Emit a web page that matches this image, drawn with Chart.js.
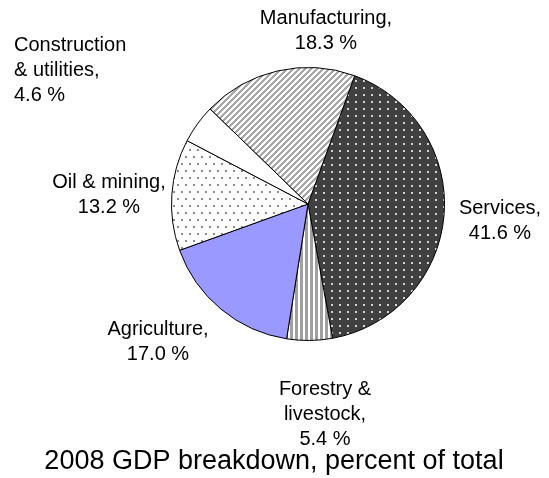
<!DOCTYPE html>
<html>
<head>
<meta charset="utf-8">
<script src="https://cdn.jsdelivr.net/npm/chart.js@4/dist/chart.umd.min.js"></script>
<style>
  html, body { margin: 0; padding: 0; background: #fff; }
  canvas { display: block; }
</style>
</head>
<body>
<canvas id="gdp-pie" width="549" height="478"></canvas>
<script>
// sectors in drawing order, clockwise from the services slice
var categories = ['Services', 'Forestry & livestock', 'Agriculture', 'Oil & mining', 'Construction & utilities', 'Manufacturing'];
var shares = [41.6, 5.4, 17.0, 13.2, 4.6, 18.3];
// how each sector name is broken over lines in its label
var labelLines = [
    ['Services,'],
    ['Forestry &', 'livestock,'],
    ['Agriculture,'],
    ['Oil & mining,'],
    ['Construction', '& utilities,'],
    ['Manufacturing,']
];
var chartTitle = '2008 GDP breakdown, percent of total';

function makePattern(w, h, bg, draw) {
    var c = document.createElement('canvas');
    c.width = w; c.height = h;
    var g = c.getContext('2d');
    g.fillStyle = bg;
    g.fillRect(0, 0, w, h);
    draw(g);
    return g.createPattern(c, 'repeat');
}

var fills = [
    // dark with light dots
    makePattern(8, 7, '#404040', function (g) {
        g.fillStyle = '#d4d4d4';
        g.fillRect(3, 3, 2, 2);
    }),
    // vertical stripes
    makePattern(5, 1, '#ffffff', function (g) {
        g.fillStyle = '#a0a0a0';
        g.fillRect(0, 0, 3, 1);
    }),
    '#9999ff',
    // light dots, staggered
    makePattern(8, 14, '#ffffff', function (g) {
        g.fillStyle = '#8c8c8c';
        g.fillRect(1, 2, 2, 2);
        g.fillRect(5, 9, 2, 2);
    }),
    '#ffffff',
    // diagonal stripes
    makePattern(6, 6, '#ffffff', function (g) {
        g.fillStyle = '#a8a8a8';
        for (var y = 0; y < 6; y++) {
            for (var x = 0; x < 6; x++) {
                if ((x + y) % 6 < 3) g.fillRect(x, y, 1, 1);
            }
        }
    })
];

// where each label block sits, and how it is aligned
var labelSpots = [
    {x: 500, y: 208, align: 'center'},
    {x: 325, y: 389, align: 'center'},
    {x: 158, y: 329, align: 'center'},
    {x: 109, y: 182, align: 'center'},
    {x: 14,  y: 45,  align: 'left'},
    {x: 326, y: 18,  align: 'center'}
];

var textPlugin = {
    id: 'sliceText',
    afterDraw: function (chart) {
        var ctx = chart.ctx;
        ctx.save();
        ctx.fillStyle = '#000';
        ctx.textBaseline = 'middle';
        ctx.font = '20px "Liberation Sans", Arial, sans-serif';
        for (var i = 0; i < categories.length; i++) {
            var lines = labelLines[i].concat([shares[i].toFixed(1) + ' %']);
            var s = labelSpots[i];
            ctx.textAlign = s.align;
            for (var j = 0; j < lines.length; j++) {
                ctx.fillText(lines[j], s.x, s.y + j * 25);
            }
        }
        ctx.font = '27px "Liberation Sans", Arial, sans-serif';
        ctx.textAlign = 'center';
        ctx.fillText(chartTitle, 274, 462);
        ctx.restore();
    }
};

var canvas = document.getElementById('gdp-pie').getContext('2d');
var gdpChart = new Chart(canvas, {
    type: 'pie',
    data: {
        labels: categories,
        datasets: [{
            data: shares,
            backgroundColor: fills,
            borderColor: '#000',
            borderWidth: 1
        }]
    },
    options: {
        responsive: false,
        animation: false,
        rotation: 20,
        layout: {padding: {left: 171, right: 104, top: 67, bottom: 137}},
        plugins: {
            legend: {display: false},
            tooltip: {enabled: false}
        },
        events: []
    },
    plugins: [textPlugin]
});
</script>
</body>
</html>
